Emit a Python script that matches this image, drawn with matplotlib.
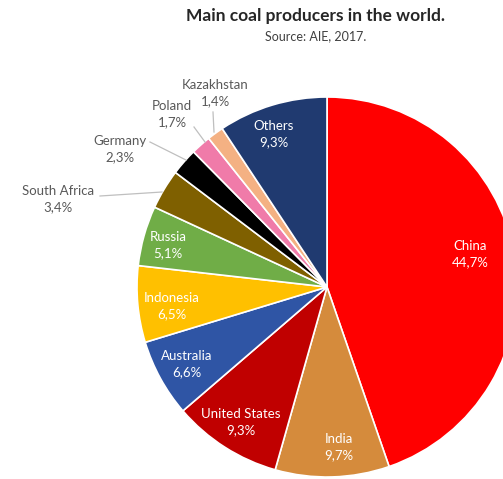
import numpy as np
import matplotlib.pyplot as plt

plt.rcParams['font.family'] = ['Lato', 'DejaVu Sans']

countries = ['China', 'India', 'United States', 'Australia', 'Indonesia', 'Russia',
             'South Africa', 'Germany', 'Poland', 'Kazakhstan', 'Others']
shares = [44.7, 9.7, 9.3, 6.6, 6.5, 5.1, 3.4, 2.3, 1.7, 1.4, 9.3]
colors = ['#FF0000', '#D58B3C', '#C00000', '#2F55A5', '#FFC000', '#70AD47',
          '#7F6000', '#000000', '#F07BA9', '#F4B183', '#203A70']

W, H = 503, 479
fig = plt.figure(figsize=(W / 100, H / 100), dpi=100)
ax = fig.add_axes([0, 0, 1, 1])

cx, cy, R = 327, 287, 190   # pixel coords, y down


def Y(y):
    return H - y


wedges, _ = ax.pie(shares, colors=colors, startangle=90, counterclock=False,
                   center=(cx, Y(cy)), radius=R, frame=True,
                   wedgeprops=dict(edgecolor='white', linewidth=1.2))
ax.set_xlim(0, W)
ax.set_ylim(0, H)
ax.set_aspect('equal')
ax.axis('off')


def pct(v):
    return f'{v:.1f}%'.replace('.', ',')


# label positions (pixels, y down)
inside = {
    'China': (470, 254), 'India': (339, 447), 'United States': (241, 422),
    'Australia': (187, 364), 'Indonesia': (172, 306), 'Russia': (168, 245),
    'Others': (274, 134),
}
outside = {
    'South Africa': ((58, 199), (100, 196), (162, 192)),
    'Germany': ((120, 149), (150, 142), (186, 160)),
    'Poland': ((172, 114), (194, 127), (205, 142)),
    'Kazakhstan': ((215, 93), (213, 112), (214, 132)),
}

fs = 9.5
for name, v in zip(countries, shares):
    if name in inside:
        x, y = inside[name]
        ax.text(x, Y(y), f'{name}\n{pct(v)}', color='white', fontsize=fs,
                ha='center', va='center', linespacing=1.45)
    else:
        (x, y), p0, p1 = outside[name]
        ax.text(x, Y(y), f'{name}\n{pct(v)}', color='#595959', fontsize=fs,
                ha='center', va='center', linespacing=1.45)
        ax.plot([p0[0], p1[0]], [Y(p0[1]), Y(p1[1])], color='#bfbfbf', lw=0.9)

ax.text(316, Y(16), 'Main coal producers in the world.', fontsize=12.5,
        fontweight='bold', color='#262626', ha='center', va='center')
ax.text(316, Y(36), 'Source: AIE, 2017.', fontsize=9, color='#404040',
        ha='center', va='center')

fig.savefig('out.png', dpi=100)
